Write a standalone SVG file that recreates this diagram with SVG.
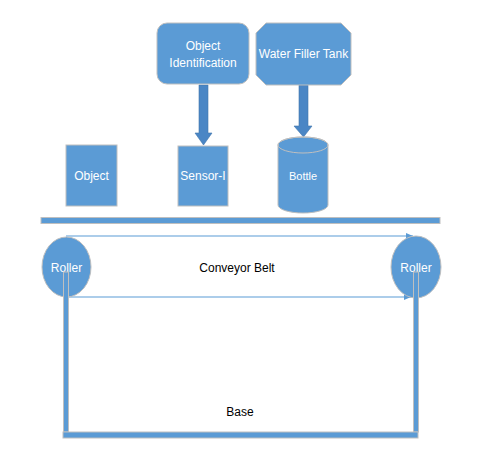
<svg xmlns="http://www.w3.org/2000/svg" width="484" height="460" viewBox="0 0 484 460">
<defs>
<style>
.shape{fill:#5B9BD5;stroke:#BFBFBF;stroke-width:1}
.bar{fill:#5B9BD5;stroke:#BFBFBF;stroke-width:1}
.arrow{fill:#4A86C5;stroke:#3F75AD;stroke-width:0.6}
.wt{font-family:"Liberation Sans",Arial,sans-serif;font-size:12px;fill:#FFFFFF;text-anchor:middle}
.bt{font-family:"Liberation Sans",Arial,sans-serif;font-size:12px;fill:#000000;text-anchor:middle}
.belt{stroke:#5B9BD5;stroke-width:1.2;fill:none}
</style>
<marker id="ah" markerWidth="8" markerHeight="8" refX="7" refY="4" orient="auto" markerUnits="userSpaceOnUse">
<path d="M0,1 L7,4 L0,7 z" fill="#5B9BD5"/>
</marker>
</defs>
<rect width="484" height="460" fill="#FFFFFF"/>
<g id="connectors">
<path class="arrow" d="M199,85 H208 V133 H212 L203.5,145 L195,133 H199 Z"/>
<path class="arrow" d="M299,85 H308 V126 H312 L303.5,137 L294,126 H299 Z"/>
<line class="belt" x1="66" y1="236" x2="413" y2="236" marker-end="url(#ah)"/>
<line class="belt" x1="68" y1="297" x2="411" y2="297" marker-end="url(#ah)"/>
</g>
<g id="object-identification">
<rect class="shape" x="157" y="23" width="92" height="61" rx="10"/>
<text class="wt" x="203" y="50">Object</text>
<text class="wt" x="203" y="67">Identification</text>
</g>
<g id="water-filler-tank">
<path class="shape" d="M266,23 H341 L351,33 V75 L341,85 H266 L256,75 V33 Z"/>
<text class="wt" x="303.5" y="58">Water Filler Tank</text>
</g>
<g id="object">
<rect class="shape" x="66" y="145" width="51" height="61"/>
<text class="wt" x="91.5" y="180">Object</text>
</g>
<g id="sensor">
<rect class="shape" x="178" y="146" width="50" height="60"/>
<text class="wt" x="203" y="180">Sensor-I</text>
</g>
<g id="bottle">
<path class="shape" d="M278,145 V205 A25,8 0 0 0 328,205 V145 A25,8 0 0 0 278,145 Z"/>
<ellipse cx="303" cy="145" rx="25" ry="8" fill="none" stroke="#BFBFBF" stroke-width="1"/>
<text class="wt" x="303" y="180" style="font-size:11px">Bottle</text>
</g>
<g id="conveyor-top">
<rect class="bar" x="41" y="217.5" width="399" height="6"/>
</g>
<g id="roller-left">
<ellipse class="shape" cx="66.5" cy="267" rx="24.5" ry="30"/>
<text class="wt" x="66.5" y="272">Roller</text>
</g>
<g id="roller-right">
<ellipse class="shape" cx="416" cy="267" rx="25" ry="31"/>
<text class="wt" x="416" y="272">Roller</text>
</g>
<g id="conveyor-belt">
<text class="bt" x="237" y="272">Conveyor Belt</text>
</g>
<g id="base">
<rect class="bar" x="63.5" y="272" width="5" height="160"/>
<rect class="bar" x="413.5" y="272" width="5" height="160"/>
<rect class="bar" x="63" y="432" width="355" height="6"/>
<text class="bt" x="240" y="416">Base</text>
</g>
</svg>
